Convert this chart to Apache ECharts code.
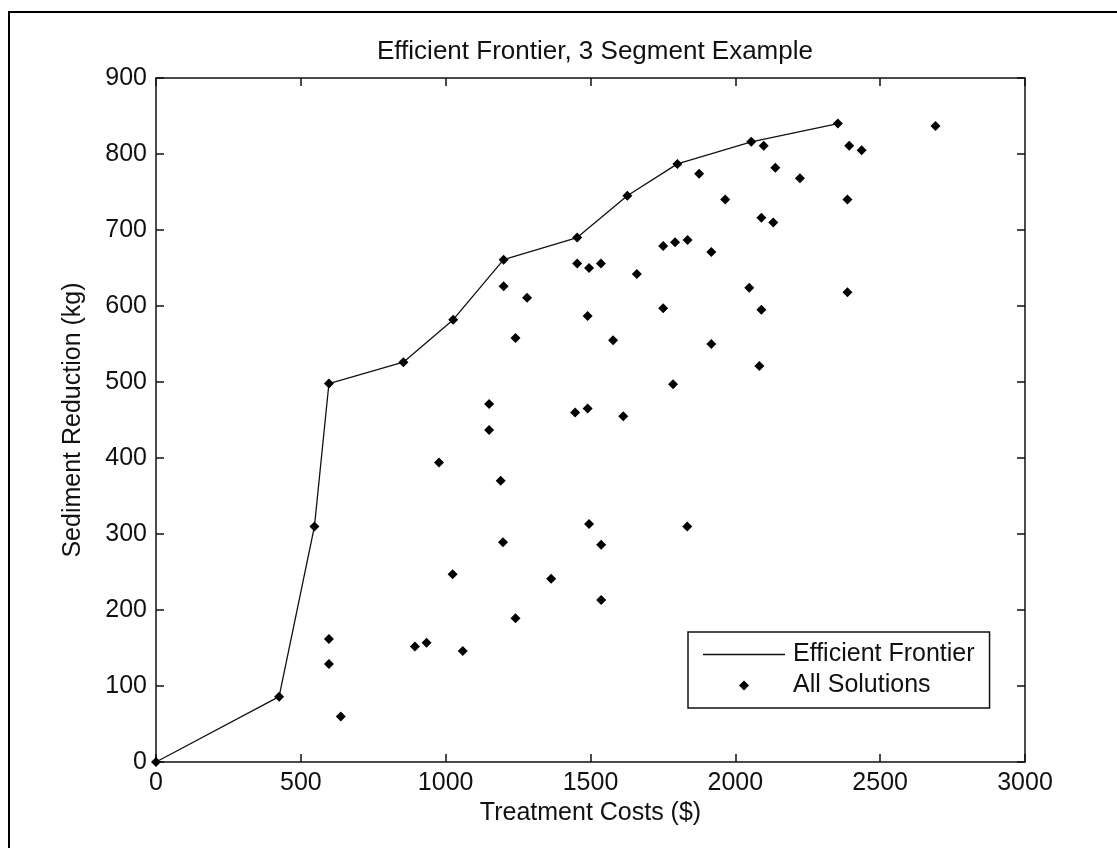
<!DOCTYPE html>
<html>
<head>
<meta charset="utf-8">
<script src="https://cdn.jsdelivr.net/npm/echarts@6/dist/echarts.min.js"></script>
<style>
html,body{margin:0;padding:0;background:#fff;}
#chart{width:1117px;height:848px;}
</style>
</head>
<body>
<div id="chart"></div>
<script>
// Efficient frontier points (cost $, reduction kg)
var frontierCost = [0, 425, 547, 597, 854, 1026, 1200, 1454, 1627, 1800, 2055, 2354];
var frontierReduction = [0, 86, 310, 498, 526, 582, 661, 690, 745, 787, 816, 840];

// Other (non-frontier) solutions
var otherCost = [597, 597, 638, 894, 934, 1059, 1241, 1241, 1150, 1150, 977, 1190, 1198, 1024, 1200, 1281,
  1454, 1495, 1536, 1660, 1490, 1578, 1751, 1792, 1835, 1875, 1917, 1965, 1751, 1917, 2048, 2090, 2083,
  1785, 2098, 2138, 2090, 2131, 2223, 2393, 2436, 2387, 2387, 2691, 1447, 1490, 1613, 1495, 1834, 1537,
  1364, 1537];
var otherReduction = [162, 129, 60, 152, 157, 146, 189, 558, 471, 437, 394, 370, 289, 247, 626, 611,
  656, 650, 656, 642, 587, 555, 679, 684, 687, 774, 671, 740, 597, 550, 624, 595, 521,
  497, 811, 782, 716, 710, 768, 811, 805, 740, 618, 837, 460, 465, 455, 313, 310, 286,
  241, 213];

var xTicks = {min: 0, max: 3000, interval: 500};
var yTicks = {min: 0, max: 900, interval: 100};

var titleText = 'Efficient Frontier, 3 Segment Example';
var xName = 'Treatment Costs ($)';
var yName = 'Sediment Reduction (kg)';
var legendNames = ['Efficient Frontier', 'All Solutions'];

var frontierData = frontierCost.map(function (c, i) { return [c, frontierReduction[i]]; });
var allData = frontierData.concat(otherCost.map(function (c, i) { return [c, otherReduction[i]]; }));

var FONT = 'Liberation Sans, Arial, sans-serif';
var FS = 25;
var plainNum = function (v) { return String(v); };

function axisCommon(extra) {
  var o = {
    type: 'value',
    axisLine: {show: true, onZero: false, lineStyle: {color: '#111', width: 1.5}},
    axisTick: {show: true, inside: true, length: 8, lineStyle: {color: '#111', width: 1.5}},
    splitLine: {show: false}
  };
  for (var k in extra) o[k] = extra[k];
  return o;
}

var chart = echarts.init(document.getElementById('chart'));
chart.setOption({
  animation: false,
  backgroundColor: '#fff',
  title: {
    text: titleText,
    left: 590,
    textAlign: 'center',
    top: 34,
    textStyle: {color: '#111', fontFamily: FONT, fontSize: 26, fontWeight: 'normal'}
  },
  grid: {left: 156, top: 78, right: 92, bottom: 86, containLabel: false},
  xAxis: [
    axisCommon({min: xTicks.min, max: xTicks.max, interval: xTicks.interval, position: 'bottom',
      name: xName, nameLocation: 'middle', nameGap: 38,
      nameTextStyle: {color: '#111', fontFamily: FONT, fontSize: FS},
      axisLabel: {color: '#111', fontFamily: FONT, fontSize: FS, margin: 9, formatter: plainNum}}),
    axisCommon({min: xTicks.min, max: xTicks.max, interval: xTicks.interval, position: 'top',
      axisLabel: {show: false}})
  ],
  yAxis: [
    axisCommon({min: yTicks.min, max: yTicks.max, interval: yTicks.interval, position: 'left',
      name: yName, nameLocation: 'middle', nameGap: 70,
      nameTextStyle: {color: '#111', fontFamily: FONT, fontSize: FS},
      axisLabel: {color: '#111', fontFamily: FONT, fontSize: FS, margin: 9, formatter: plainNum}}),
    axisCommon({min: yTicks.min, max: yTicks.max, interval: yTicks.interval, position: 'right',
      axisLabel: {show: false}})
  ],
  legend: {
    orient: 'vertical',
    left: 688,
    top: 632,
    itemWidth: 82,
    itemHeight: 10,
    itemGap: 6,
    symbolKeepAspect: true,
    padding: [10, 15, 10, 15],
    borderColor: '#111',
    borderWidth: 1.5,
    backgroundColor: '#fff',
    textStyle: {color: '#111', fontFamily: FONT, fontSize: FS, padding: [0, 0, 0, 3]},
    data: [
      {name: legendNames[0], icon: 'path://M0,0H100V1.6H0Z', itemStyle: {color: '#111'}},
      {name: legendNames[1], icon: 'path://M5,0L10,5L5,10L0,5Z', itemStyle: {color: '#000'}}
    ]
  },
  graphic: [{
    type: 'rect',
    silent: true,
    shape: {x: 9, y: 12, width: 1200, height: 1000},
    style: {fill: 'none', stroke: '#000', lineWidth: 2},
    z: 100
  }],
  series: [
    {
      name: legendNames[0],
      type: 'line',
      data: frontierData,
      symbol: 'none',
      lineStyle: {color: '#111', width: 1.3},
      itemStyle: {color: '#111'},
      z: 2
    },
    {
      name: legendNames[1],
      type: 'scatter',
      data: allData,
      symbol: 'diamond',
      symbolSize: 10,
      itemStyle: {color: '#000', opacity: 1},
      z: 3
    }
  ]
});
</script>
</body>
</html>
